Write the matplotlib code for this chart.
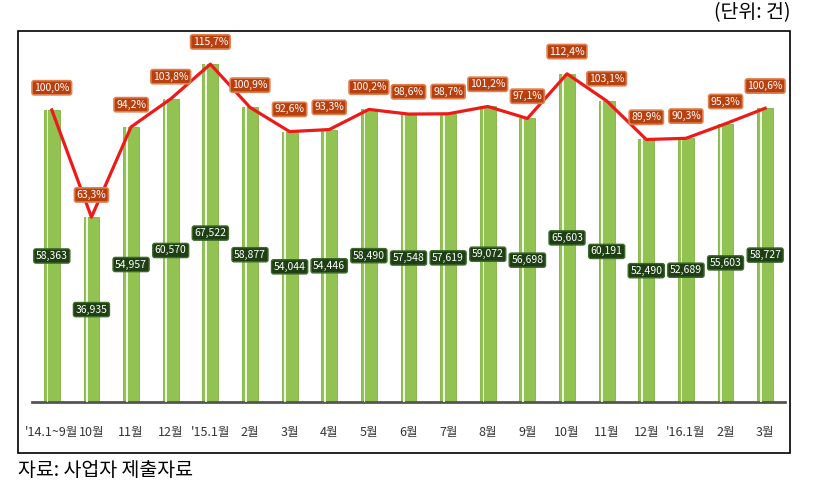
import matplotlib
matplotlib.use("Agg")
import matplotlib.pyplot as plt
from matplotlib.patches import Rectangle

plt.rcParams['font.family'] = ['Noto Sans CJK KR', 'DejaVu Sans']

categories = ["'14.1~9월", "10월", "11월", "12월", "'15.1월", "2월", "3월", "4월", "5월", "6월",
              "7월", "8월", "9월", "10월", "11월", "12월", "'16.1월", "2월", "3월"]
values = [58363, 36935, 54957, 60570, 67522, 58877, 54044, 54446, 58490, 57548,
          57619, 59072, 56698, 65603, 60191, 52490, 52689, 55603, 58727]
pct = [100.0, 63.3, 94.2, 103.8, 115.7, 100.9, 92.6, 93.3, 100.2, 98.6,
       98.7, 101.2, 97.1, 112.4, 103.1, 89.9, 90.3, 95.3, 100.6]
base_value = 58363

W, H = 815, 496
fig = plt.figure(figsize=(W / 100, H / 100), dpi=100)

# outer frame
fig.patches.append(Rectangle((18 / W, (H - 453) / H), (790 - 18) / W, (453 - 31) / H,
                             transform=fig.transFigure, fill=False, edgecolor='black', lw=1.2))

ax = fig.add_axes([32 / W, (H - 402) / H, (785 - 32) / W, (402 - 31) / H])
ymax = 74150
ax.set_ylim(0, ymax)
ax.set_xlim(-0.5, len(values) - 0.5)

x = list(range(len(values)))
bw = 0.40
ax.bar(x, values, width=bw, color='#92c352', edgecolor='#82b042', lw=0.6, zorder=2)
# white highlight stripe inside bars
ax.bar([xi - 0.11 for xi in x], values, width=0.045, color='white', alpha=0.85, lw=0, zorder=3)

for s in ['top', 'right', 'left']:
    ax.spines[s].set_visible(False)
ax.spines['bottom'].set_color('#555555')
ax.spines['bottom'].set_linewidth(2)
ax.set_yticks([])
ax.set_xticks(x)
ax.set_xticklabels(categories, fontsize=9, color='#333333')
ax.tick_params(axis='x', length=0, pad=17)

ax2 = ax.twinx()
ax2.set_ylim(0, ymax / base_value * 100)
ax2.axis('off')
ax2.plot(x, pct, color='#ee1a1a', lw=2.3, zorder=5)

for xi, v, p in zip(x, values, pct):
    ax2.annotate(f"{p:.1f}".replace('.', ',') + "%", (xi, p), xytext=(0, 16), textcoords='offset points',
                 ha='center', va='center', fontsize=7.5, color='white', zorder=6,
                 bbox=dict(boxstyle='round,pad=0.2', fc='#b8400f', ec='#e08050', lw=1.2))
    ax.text(xi, v / 2, f"{v:,}", ha='center', va='center', fontsize=7.5, color='white', zorder=6,
            bbox=dict(boxstyle='round,pad=0.2', fc='#1e3f14', ec='#3d6a2a', lw=1.0))

fig.text(790 / W, (H - 13) / H, "(단위: 건)", ha='right', va='center', fontsize=14)
fig.text(18 / W, (H - 470) / H, "자료: 사업자 제출자료", ha='left', va='center', fontsize=14)

fig.savefig("out.png", dpi=100)
